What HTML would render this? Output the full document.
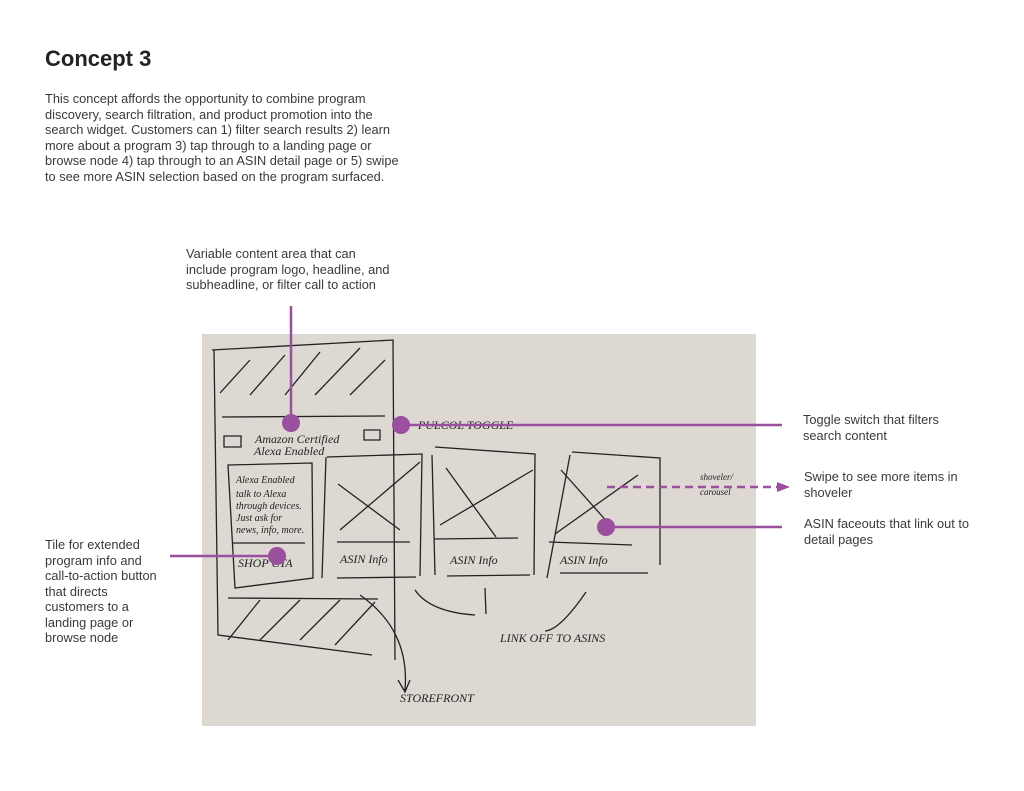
<!DOCTYPE html>
<html><head><meta charset="utf-8"><style>
body{margin:0;width:1024px;height:791px;background:#fff;position:relative;font-family:"Liberation Sans",sans-serif;overflow:hidden}
h1{position:absolute;left:45px;top:46px;margin:0;font-size:22px;font-weight:bold;color:#222}
.t{position:absolute;font-size:12.8px;line-height:15.5px;color:#3a3a3a;white-space:nowrap}
</style></head><body>
<h1>Concept 3</h1>
<div class="t" style="left:45px;top:91px">This concept affords the opportunity to combine program<br>discovery, search filtration, and product promotion into the<br>search widget. Customers can 1) filter search results 2) learn<br>more about a program 3) tap through to a landing page or<br>browse node 4) tap through to an ASIN detail page or 5) swipe<br>to see more ASIN selection based on the program surfaced.</div>
<div class="t" style="left:186px;top:246px">Variable content area that can<br>include program logo, headline, and<br>subheadline, or filter call to action</div>
<div class="t" style="left:803px;top:412px">Toggle switch that filters<br>search content</div>
<div class="t" style="left:804px;top:469px">Swipe to see more items in<br>shoveler</div>
<div class="t" style="left:804px;top:516px">ASIN faceouts that link out to<br>detail pages</div>
<div class="t" style="left:45px;top:537px">Tile for extended<br>program info and<br>call-to-action button<br>that directs<br>customers to a<br>landing page or<br>browse node</div>
<svg width="1024" height="791" style="position:absolute;left:0;top:0">
<rect x="202" y="334" width="554" height="392" fill="#ddd9d2"/>
<g stroke="#222" stroke-width="1.3" fill="none">
<path d="M212 350 L393 340 L395 660 M214 350 L218 635 L372 655 M222 417 L385 416 M228 598 L378 599"/>
<path d="M220 393 L250 360 M250 395 L285 355 M285 395 L320 352 M315 395 L360 348 M350 395 L385 360 M228 640 L260 600 M260 640 L300 600 M300 640 L340 600 M335 645 L375 602"/>
<path d="M228 465 L312 463 L313 578 L235 588 Z M233 543 L305 543"/>
<path d="M327 457 L422 454 L420 576 M326 457 L322 578 M337 542 L410 542 M338 484 L400 530 M340 530 L420 462 M337 578 L416 577"/>
<path d="M435 447 L535 454 L534 575 M432 455 L435 575 M434 539 L518 538 M446 468 L496 537 M440 525 L533 470 M447 576 L530 575"/>
<path d="M572 452 L660 458 L660 565 M570 455 L547 578 M549 542 L632 545 M561 470 L610 525 M555 534 L638 475 M560 573 L648 573"/>
<path d="M415 590 Q430 612 475 615 M485 588 L486 614 M586 592 Q560 630 545 631 M360 595 Q410 630 405 690 M398 680 L405 692 L410 680"/>
<path d="M224 436 L241 436 L241 447 L224 447 Z M364 430 L380 430 L380 440 L364 440 Z"/>
</g>
<g font-family="'Liberation Serif',serif" font-style="italic" font-size="12" fill="#222">
<text x="255" y="443">Amazon Certified</text><text x="254" y="455">Alexa Enabled</text>
<text x="418" y="429">PULCOL TOGGLE</text>
<text x="236" y="483" font-size="10">Alexa Enabled</text>
<text x="236" y="497" font-size="10">talk to Alexa</text>
<text x="236" y="509" font-size="10">through devices.</text>
<text x="236" y="521" font-size="10">Just ask for</text>
<text x="236" y="533" font-size="10">news, info, more.</text>
<text x="238" y="567">SHOP CTA</text>
<text x="340" y="563">ASIN Info</text><text x="450" y="564">ASIN Info</text><text x="560" y="564">ASIN Info</text>
<text x="500" y="642">LINK OFF TO ASINS</text>
<text x="400" y="702">STOREFRONT</text>
<text x="700" y="480" font-size="9">shoveler/</text><text x="700" y="495" font-size="9">carousel</text>
</g>
<g stroke="#9b4f9f" stroke-width="2.5" fill="none">
<path d="M291 306 L291 423 M401 425 L782 425 M170 556 L277 556 M606 527 L782 527"/>
<path d="M607 487 L777 487" stroke-dasharray="8 5"/>
</g>
<path d="M777 482 L790 487 L777 492 Z" fill="#9b4f9f"/>
<g fill="#9b4f9f"><circle cx="291" cy="423" r="9"/><circle cx="401" cy="425" r="9"/><circle cx="277" cy="556" r="9"/><circle cx="606" cy="527" r="9"/></g>
</svg>
</body></html>
